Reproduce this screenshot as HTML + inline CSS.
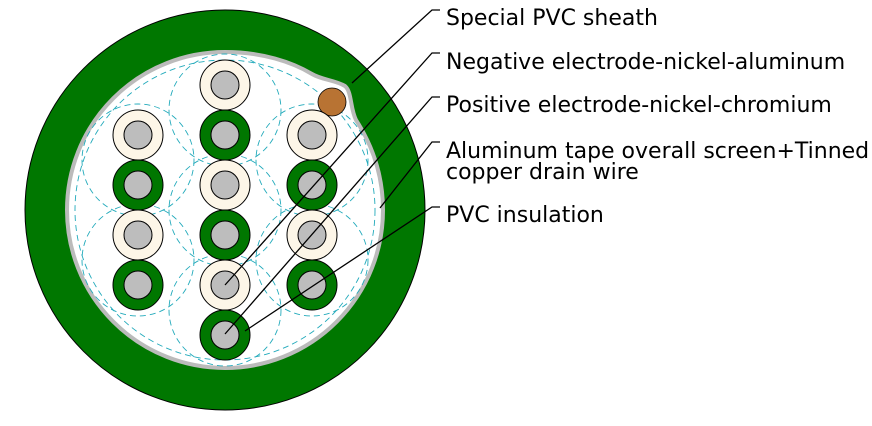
<!DOCTYPE html>
<html><head><style>html,body{margin:0;padding:0;background:#fff}</style></head>
<body>
<svg width="872" height="421" viewBox="0 0 872 421" xmlns="http://www.w3.org/2000/svg">
<circle cx="225" cy="210" r="200" fill="#007700" stroke="#000" stroke-width="1"/>
<path d="M225,52 C262,52 292,62 312,74 C322,80 335,80 345,86 C352,92 350,108 356,120 C374,148 383,178 383,210 A158,158 0 1 1 225,52 Z" fill="#fff" stroke="#bbb" stroke-width="4"/>
<g fill="none" stroke="#22aabb" stroke-width="0.9" stroke-dasharray="6,4">
<circle cx="225" cy="110" r="56"/><circle cx="225" cy="210" r="56"/><circle cx="225" cy="310" r="56"/>
<circle cx="138" cy="160" r="56"/><circle cx="138" cy="260" r="56"/>
<circle cx="312" cy="160" r="56"/><circle cx="312" cy="260" r="56"/>
<circle cx="225" cy="210" r="150"/>
</g>
<circle cx="332" cy="102" r="14" fill="#b87333" stroke="#000" stroke-width="0.8"/>
<g stroke="#000" stroke-width="1">
<g fill="#fdf6e8">
<circle cx="225" cy="85" r="25"/><circle cx="225" cy="185" r="25"/><circle cx="225" cy="285" r="25"/>
<circle cx="138" cy="135" r="25"/><circle cx="138" cy="235" r="25"/>
<circle cx="312" cy="135" r="25"/><circle cx="312" cy="235" r="25"/>
</g>
<g fill="#007700">
<circle cx="225" cy="135" r="25"/><circle cx="225" cy="235" r="25"/><circle cx="225" cy="335" r="25"/>
<circle cx="138" cy="185" r="25"/><circle cx="138" cy="285" r="25"/>
<circle cx="312" cy="185" r="25"/><circle cx="312" cy="285" r="25"/>
</g>
<g fill="#bdbdbd">
<circle cx="225" cy="85" r="14"/><circle cx="225" cy="185" r="14"/><circle cx="225" cy="285" r="14"/>
<circle cx="138" cy="135" r="14"/><circle cx="138" cy="235" r="14"/>
<circle cx="312" cy="135" r="14"/><circle cx="312" cy="235" r="14"/>
<circle cx="225" cy="135" r="14"/><circle cx="225" cy="235" r="14"/><circle cx="225" cy="335" r="14"/>
<circle cx="138" cy="185" r="14"/><circle cx="138" cy="285" r="14"/>
<circle cx="312" cy="185" r="14"/><circle cx="312" cy="285" r="14"/>
</g>
</g>
<g fill="none" stroke="#000" stroke-width="1.3">
<polyline points="440,10 432,10 352,83"/>
<polyline points="440,53 432,53 225,285"/>
<polyline points="440,97 432,97 225,334"/>
<polyline points="440,142 432,142 380,208"/>
<polyline points="440,207 432,207 245,331"/>
</g>
<g font-family="DejaVu Sans, Liberation Sans, sans-serif" font-size="22" fill="#000">
<text x="446" y="25">Special PVC sheath</text>
<text x="446" y="69">Negative electrode-nickel-aluminum</text>
<text x="446" y="112">Positive electrode-nickel-chromium</text>
<text x="446" y="158">Aluminum tape overall screen+Tinned</text>
<text x="446" y="179">copper drain wire</text>
<text x="446" y="222">PVC insulation</text>
</g>
</svg>
</body></html>
